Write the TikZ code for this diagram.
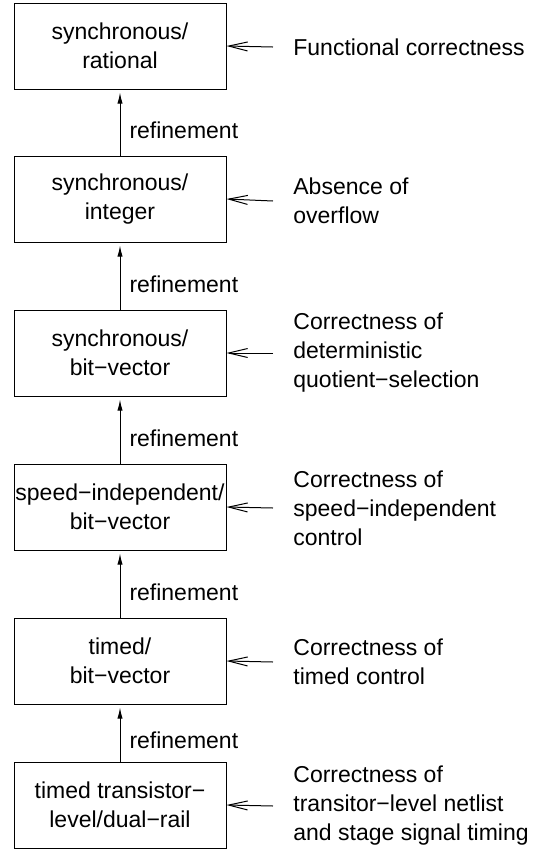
\documentclass[tikz,border=0pt]{standalone}
\usepackage{fontspec}
\setmainfont{Liberation Sans}
\usetikzlibrary{arrows.meta}

\begin{document}
\begin{tikzpicture}[x=0.5pt, y=-0.5pt, font=\fontsize{11.5}{14.5}\selectfont,
        level/.style={draw, line width=0.5pt, minimum width=106pt, minimum height=43pt, inner sep=0pt, align=center},
        goal/.style={anchor=west, align=left, inner xsep=10pt, inner ysep=0pt},
        refine/.style={-{Latex[length=5.5pt,width=2.6pt]}, line width=0.5pt, shorten >=1.5pt},
        check/.style={-{Straight Barb[length=9.5pt,width=4.5pt]}, line width=0.5pt}]
        \useasboundingbox (0,0) rectangle (533,853);
        \node[level] (s1) at (120,46) {synchronous/\\rational};
        \node[level] (s2) at (120,199) {synchronous/\\integer};
        \node[level] (s3) at (120,353) {synchronous/\\bit−vector};
        \node[level] (s4) at (120,507) {speed−independent/\\bit−vector};
        \node[level] (s5) at (120,661) {timed/\\bit−vector};
        \node[level] (s6) at (120,805) {timed transistor−\\level/dual−rail};
        \node[goal] (g1) at (273,47) {Functional correctness};
        \node[goal] (g2) at (273,201) {Absence of\\overflow};
        \node[goal] (g3) at (273,353) {Correctness of\\deterministic\\quotient−selection};
        \node[goal] (g4) at (273,508) {Correctness of\\speed−independent\\control};
        \node[goal] (g5) at (273,662) {Correctness of\\timed control};
        \node[goal] (g6) at (273,806) {Correctness of\\transitor−level netlist\\and stage signal timing};
        \foreach \Low/\High in {s2/s1, s3/s2, s4/s3, s5/s4, s6/s5}
        \draw[refine] (\Low) -- (\High) node[right, pos=.38, inner sep=4.5pt] {refinement};
        \foreach \i in {1,...,6}
        \draw[check] (g\i.west) -- (s\i.east);
      \end{tikzpicture}
\end{document}
